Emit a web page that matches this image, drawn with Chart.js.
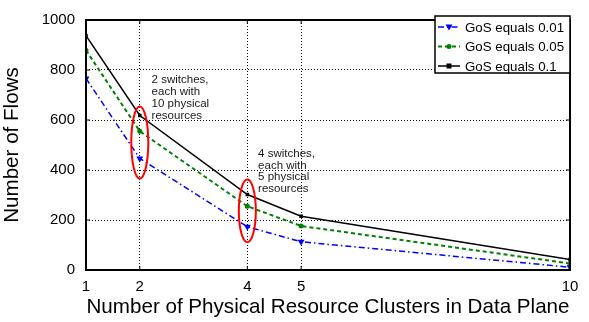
<!DOCTYPE html>
<html>
<head>
<meta charset="utf-8">
<script src="https://cdn.jsdelivr.net/npm/chart.js@4"></script>
<style>
  body { margin: 0; background: #fff; }
  #wrap { width: 589px; height: 322px; }
</style>
</head>
<body>
<div id="wrap"><canvas id="grafico"></canvas></div>
<script>
const clusters = [1, 2, 4, 5, 10];
const gos001 = [766, 446, 173, 113, 11];
const gos005 = [879, 555, 255, 176, 26];
const gos01 = [937, 618, 302, 215, 42];
const yTicks = [0, 200, 400, 600, 800, 1000];

// notas com elipses (centro x, y min, y max) e texto ao lado
const notes = [
    { x: 2, yMin: 366, yMax: 654, textX: 2.22, textY: 760, lines: ['2 switches,', 'each with', '10 physical', 'resources'] },
    { x: 4, yMin: 111, yMax: 362, textX: 4.2, textY: 466, lines: ['4 switches,', 'each with', '5 physical', 'resources'] }
];

const fonte = '"Liberation Sans", Arial, sans-serif';

const extras = {
    id: 'extras',
    afterDraw(chart) {
        const c = chart.ctx;
        const a = chart.chartArea;
        const xs = chart.scales.x, ys = chart.scales.y;
        c.save();
        // moldura
        c.strokeStyle = '#000';
        c.lineWidth = 2;
        c.strokeRect(a.left, a.top, a.right - a.left, a.bottom - a.top);
        // marcas internas
        c.lineWidth = 1;
        clusters.forEach(v => {
            const px = xs.getPixelForValue(v);
            c.beginPath(); c.moveTo(px, a.bottom); c.lineTo(px, a.bottom - 4);
            c.moveTo(px, a.top); c.lineTo(px, a.top + 4); c.stroke();
        });
        yTicks.forEach(v => {
            const py = ys.getPixelForValue(v);
            c.beginPath(); c.moveTo(a.left, py); c.lineTo(a.left + 4, py);
            c.moveTo(a.right, py); c.lineTo(a.right - 4, py); c.stroke();
        });
        // elipses vermelhas
        notes.forEach(n => {
            const cx = xs.getPixelForValue(n.x);
            const y1 = ys.getPixelForValue(n.yMax), y2 = ys.getPixelForValue(n.yMin);
            c.strokeStyle = '#f00';
            c.lineWidth = 2;
            c.beginPath();
            c.ellipse(cx, (y1 + y2) / 2, 8.5, (y2 - y1) / 2, 0, 0, Math.PI * 2);
            c.stroke();
            c.fillStyle = '#1a1a1a';
            c.font = '11.5px ' + fonte;
            c.textBaseline = 'middle';
            const tx = xs.getPixelForValue(n.textX), ty = ys.getPixelForValue(n.textY);
            n.lines.forEach((l, i) => c.fillText(l, tx, ty + i * 11.9));
        });
        // legenda
        const lx = 435, ly = 16, lw = a.right - lx, lh = 57;
        c.fillStyle = '#fff';
        c.fillRect(lx, ly, lw, lh);
        c.strokeStyle = '#000';
        c.lineWidth = 1.5;
        c.strokeRect(lx, ly, lw, lh);
        chart.data.datasets.forEach((ds, i) => {
            const yy = ly + 11 + i * 19.5;
            c.strokeStyle = ds.borderColor;
            c.lineWidth = ds.borderWidth;
            c.setLineDash(ds.borderDash || []);
            c.beginPath(); c.moveTo(lx + 3, yy); c.lineTo(lx + 25, yy); c.stroke();
            c.setLineDash([]);
            c.fillStyle = ds.borderColor;
            const m = lx + 14;
            if (ds.pointStyle === 'triangle') {
                c.beginPath(); c.moveTo(m - 3.5, yy - 2.5); c.lineTo(m + 3.5, yy - 2.5); c.lineTo(m, yy + 3.5); c.closePath(); c.fill();
            } else if (ds.pointStyle === 'circle') {
                c.beginPath(); c.arc(m, yy, 2.5, 0, Math.PI * 2); c.fill();
            } else {
                c.fillRect(m - 2.5, yy - 2.5, 5, 5);
            }
            c.fillStyle = '#000';
            c.font = '13.3px ' + fonte;
            c.textBaseline = 'middle';
            c.fillText(ds.label, lx + 30, yy + 1);
        });
        c.restore();
    }
};

new Chart(document.getElementById('grafico'), {
    type: 'line',
    data: {
        datasets: [
            {
                label: 'GoS equals 0.01',
                data: clusters.map((x, i) => ({ x: x, y: gos001[i] })),
                borderColor: '#0000ff',
                borderWidth: 1.5,
                borderDash: [6, 3, 1.5, 3],
                pointStyle: 'triangle',
                pointRotation: 180,
                pointRadius: 4,
                pointBackgroundColor: '#0000ff',
                pointBorderWidth: 0
            },
            {
                label: 'GoS equals 0.05',
                data: clusters.map((x, i) => ({ x: x, y: gos005[i] })),
                borderColor: '#008000',
                borderWidth: 2,
                borderDash: [4, 3],
                pointStyle: 'circle',
                pointRadius: 2.5,
                pointBackgroundColor: '#008000',
                pointBorderWidth: 0
            },
            {
                label: 'GoS equals 0.1',
                data: clusters.map((x, i) => ({ x: x, y: gos01[i] })),
                borderColor: '#000000',
                borderWidth: 1.5,
                pointStyle: 'rect',
                pointRadius: 2.5,
                pointBackgroundColor: '#000000',
                pointBorderWidth: 0
            }
        ]
    },
    options: {
        responsive: true,
        maintainAspectRatio: false,
        animation: false,
        layout: { padding: { top: 16, right: 19, left: 0, bottom: 0 } },
        scales: {
            x: {
                type: 'linear',
                min: 1,
                max: 10,
                afterBuildTicks: s => { s.ticks = clusters.map(v => ({ value: v })); },
                afterFit: s => { s.height = 52; },
                ticks: { color: '#000', font: { family: fonte, size: 15 }, padding: 8, maxRotation: 0, autoSkip: false },
                grid: { color: '#000', lineWidth: 1, drawTicks: false },
                border: { display: false, dash: [1, 2] },
                title: { display: true, text: 'Number of Physical Resource Clusters in Data Plane', color: '#000', font: { family: fonte, size: 20.6 }, padding: { top: 0, bottom: 2 } }
            },
            y: {
                min: 0,
                max: 1000,
                afterBuildTicks: s => { s.ticks = yTicks.map(v => ({ value: v })); },
                afterFit: s => { s.width = 86; },
                ticks: { color: '#000', font: { family: fonte, size: 15 }, padding: 11, callback: v => String(v) },
                grid: { color: '#000', lineWidth: 1, drawTicks: false },
                border: { display: false, dash: [1, 2] },
                title: { display: true, text: 'Number of Flows', color: '#000', font: { family: fonte, size: 20.6 }, padding: { top: 0, bottom: 0 } }
            }
        },
        plugins: {
            legend: { display: false },
            tooltip: { enabled: false }
        }
    },
    plugins: [extras]
});
</script>
</body>
</html>
